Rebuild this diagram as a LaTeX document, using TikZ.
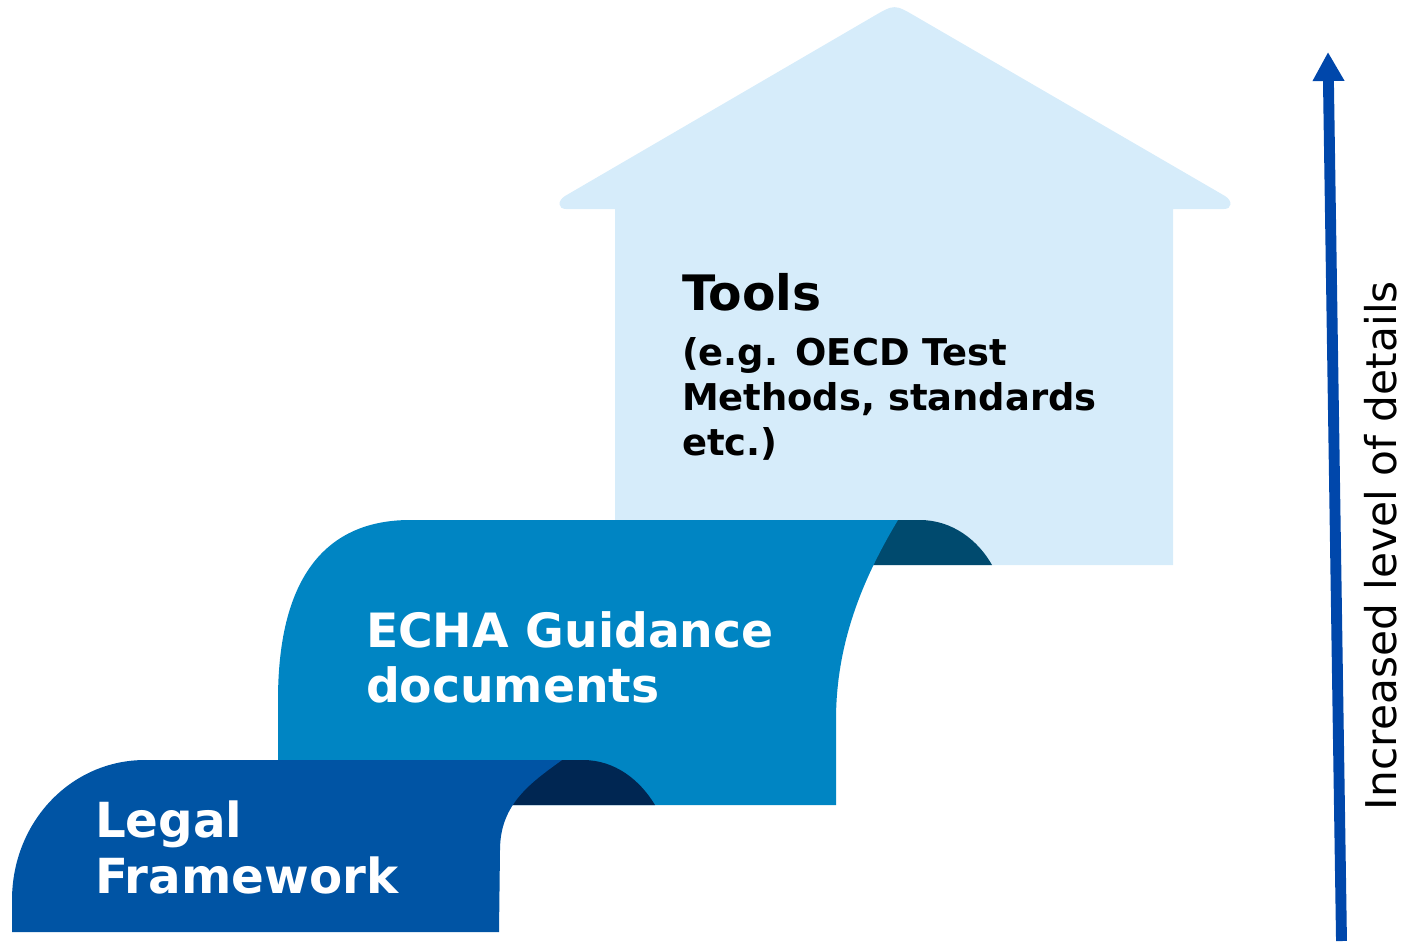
\documentclass[tikz,border=0pt]{standalone}
\usepackage{fontspec}
\setmainfont{DejaVu Sans}
\usetikzlibrary{arrows.meta}
\definecolor{legalblue}{RGB}{0,84,164}
\definecolor{legaldark}{RGB}{0,38,82}
\definecolor{echablue}{RGB}{0,133,195}
\definecolor{echadark}{RGB}{0,74,110}
\definecolor{toolsblue}{RGB}{214,236,250}
\definecolor{arrowblue}{RGB}{0,71,171}
\tikzset{
  lbl/.style={anchor=base west, inner sep=0pt, outer sep=0pt, align=left},
  whitebig/.style={lbl, text=white},
}
\begin{document}
\begin{tikzpicture}[x=0.02cm,y=-0.02cm]
\useasboundingbox (0,0) rectangle (1407,941);
% Tools house
\fill[toolsblue] (873,16.6) .. controls (894.5,4) .. (916,16.6)
  -- (1225,196) .. controls (1233,201) and (1232,209) .. (1224,209)
  -- (1173,209) -- (1173,565) -- (615,565) -- (615,209) -- (566,209)
  .. controls (558,209) and (557,201) .. (565,196) -- cycle;
% ECHA curl
\fill[echadark] (870,565) -- (870,520) -- (920,520)
  .. controls (952,520) and (978,540) .. (992,565) -- cycle;
% ECHA shape
\fill[echablue] (278,805) -- (278,700) .. controls (278,560) and (340,520) .. (410,520)
  -- (898,520) .. controls (865,575) and (836,640) .. (836,720) -- (836,805) -- cycle;
% Legal curl
\fill[legaldark] (505,805) -- (505,760) -- (583,760)
  .. controls (615,760) and (640,780) .. (655,805) -- cycle;
% Legal shape
\fill[legalblue] (12,932) -- (12,900) .. controls (12,822) and (71,760) .. (145,760)
  -- (562,760) .. controls (532,782) and (500,803) .. (500,850) -- (499,932) -- cycle;
% Texts (anchor = baseline of the last line)
\node[lbl, font=\bfseries\fontsize{27.8pt}{30pt}\selectfont] (toolstitle) at (682,310) {Tools};
\node[lbl, font=\bfseries\fontsize{21pt}{25.5pt}\selectfont] (toolstext) at (682,455)
  {(e.g. OECD Test\\Methods, standards\\etc.)};
\node[whitebig, font=\bfseries\fontsize{26.9pt}{31.2pt}\selectfont] (echatext) at (366,702)
  {ECHA Guidance\\documents};
\node[whitebig, font=\bfseries\fontsize{27.5pt}{31.7pt}\selectfont] (legaltext) at (95,893)
  {Legal\\Framework};
\node[lbl, rotate=90, font=\fontsize{24.1pt}{28pt}\selectfont] (axislabel) at (1396,810)
  {Increased level of details};
% Arrow
\coordinate (abot) at (1341.5,941);
\coordinate (atop) at (1328,52);
\draw[arrowblue, line width=6.2pt, -{Triangle[length=16.5pt, width=17pt]}] (abot) -- (atop);
\end{tikzpicture}
\end{document}
